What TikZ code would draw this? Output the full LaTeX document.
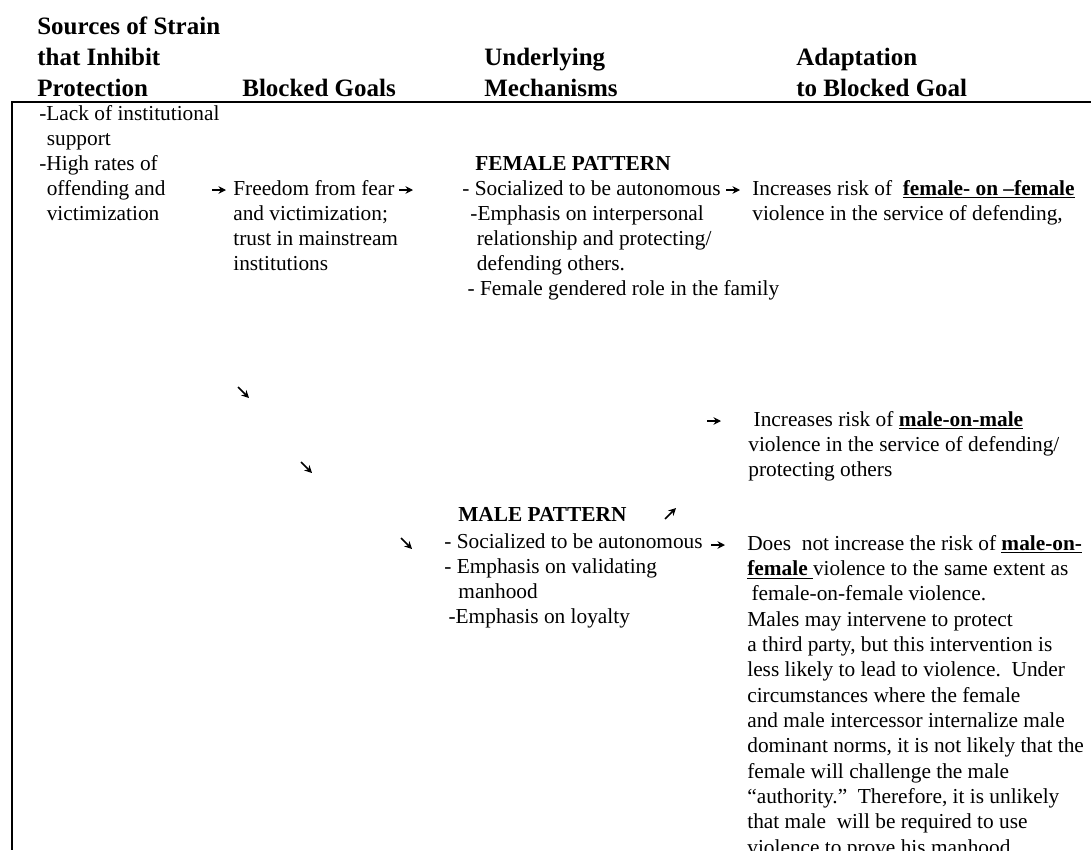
\documentclass[tikz,border=0pt]{standalone}
\usepackage{fontspec}
\setmainfont{Liberation Serif}
\usepackage{tikz}
\usetikzlibrary{
  arrows.meta,
  positioning
}
\newcommand{\bodysize}{\fontsize{12.8}{15}\selectfont}
\newcommand{\headsize}{\fontsize{15}{18.6}\selectfont\bfseries}
\newcommand{\ulb}[1]{\underline{\textbf{#1}}}

\begin{document}
\begin{tikzpicture}[
  x=0.6pt, y=-0.6pt,
  head/.style={anchor=base west, inner sep=0pt, align=left, font=\headsize},
  body/.style={anchor=base west, inner sep=0pt, align=left, font=\bodysize},
  pattern/.style={body, font=\bodysize\bfseries},
  arrow/.style={-{Stealth[length=4.5pt, width=4.5pt]}, line width=1pt},
  rule/.style={line width=1.2pt},
]
\useasboundingbox (0,0) rectangle (1091,850);
\clip (0,0) rectangle (1091,850);

% Column headers (placed by the baseline of their last line)
\node[head] (hsrc) at (37,96) {Sources of Strain\\that Inhibit\\Protection};
\node[head] (hgoal) at (242,96) {Blocked Goals};
\node[head] (hmech) at (484,96) {Underlying\\Mechanisms};
\node[head] (hadapt) at (796,96) {Adaptation\\to Blocked Goal};

% Table frame
\draw[rule] (1091,102) -- (12,102) -- (12,850);

% Sources and goals
\node[body] (src) at (39,220) {-Lack of institutional\\\hspace*{.35em}support\\-High rates of\\\hspace*{.35em}offending and\\\hspace*{.35em}victimization};
\node[body] (goal) at (233,270) {Freedom from fear\\and victimization;\\trust in mainstream\\institutions};

% Female pattern
\node[pattern] (fhead) at (475,170) {FEMALE PATTERN};
\node[body] (fmech) at (462,295) {- Socialized to be autonomous\\\hspace*{.38em}-Emphasis on interpersonal\\\hspace*{.68em}relationship and protecting/\\\hspace*{.68em}defending others.\\\hspace*{.25em}- Female gendered role in the family};
\node[body] (fadapt) at (752,220) {Increases risk of\ \ \ulb{female- on --female}\\violence in the service of defending,};

% Male pattern
\node[body] (mm) at (748,476) {\hspace*{.25em}Increases risk of \ulb{male-on-male}\\violence in the service of defending/\\protecting others};
\node[pattern] (mhead) at (458,521) {MALE PATTERN};
\node[body] (mmech) at (444,623) {- Socialized to be autonomous\\- Emphasis on validating\\\hspace*{.66em}manhood\\\hspace*{.2em}-Emphasis on loyalty};
\node[body, font=\fontsize{12.8}{15.2}\selectfont] (mnot) at (747,854) {Does\ \ not increase the risk of \ulb{male-on-}\\\ulb{female }violence to the same extent as\\\hspace*{.2em}female-on-female violence.\\Males may intervene to protect\\a third party, but this intervention is\\less likely to lead to violence.\ \ Under\\circumstances where the female\\and male intercessor internalize male\\dominant norms, it is not likely that the\\female will challenge the male\\“authority.”\ \ Therefore, it is unlikely\\that male\ \ will be required to use\\violence to prove his manhood.};

% Arrow ends
\coordinate (a1) at (212,190); \coordinate (b1) at (226,190);
\coordinate (a2) at (399,190); \coordinate (b2) at (413,190);
\coordinate (a3) at (726,190); \coordinate (b3) at (740,190);
\coordinate (a4) at (707,421); \coordinate (b4) at (721,421);
\coordinate (a5) at (711,545); \coordinate (b5) at (725,545);
\coordinate (d1) at (238,387); \coordinate (e1) at (249,398);
\coordinate (d2) at (301,462); \coordinate (e2) at (312,473);
\coordinate (d3) at (401,538); \coordinate (e3) at (412,549);
\coordinate (u1) at (665,519); \coordinate (v1) at (676,508);

% Arrows
\draw[arrow] (a1) -- (b1);
\draw[arrow] (a2) -- (b2);
\draw[arrow] (a3) -- (b3);
\draw[arrow] (a4) -- (b4);
\draw[arrow] (a5) -- (b5);
\draw[arrow] (d1) -- (e1);
\draw[arrow] (d2) -- (e2);
\draw[arrow] (d3) -- (e3);
\draw[arrow] (u1) -- (v1);
\end{tikzpicture}
\end{document}
